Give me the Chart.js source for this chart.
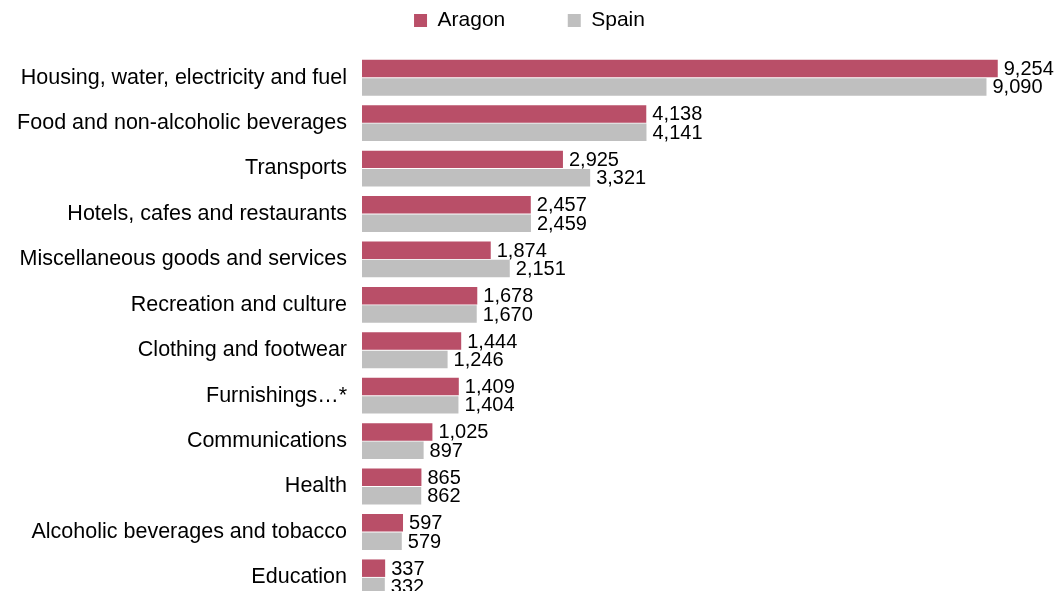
<!DOCTYPE html>
<html>
<head>
<meta charset="utf-8">
<script src="https://cdn.jsdelivr.net/npm/chart.js@4.4.1/dist/chart.umd.min.js"></script>
<style>
  html, body { margin: 0; padding: 0; background: #ffffff; overflow: hidden; }
  #wrap { position: relative; width: 1059px; height: 628px; }
</style>
</head>
<body>
<div id="wrap"><canvas id="c"></canvas></div>
<script>
const categories = [
  'Housing, water, electricity and fuel',
  'Food and non-alcoholic beverages',
  'Transports',
  'Hotels, cafes and restaurants',
  'Miscellaneous goods and services',
  'Recreation and culture',
  'Clothing and footwear',
  'Furnishings\u2026*',
  'Communications',
  'Health',
  'Alcoholic beverages and tobacco',
  'Education'
];
const aragonValues = [9254, 4138, 2925, 2457, 1874, 1678, 1444, 1409, 1025, 865, 597, 337];
const spainValues  = [9090, 4141, 3321, 2459, 2151, 1670, 1246, 1404, 897, 862, 579, 332];
const seriesNames = ['Aragon', 'Spain'];

const FONT = "'Liberation Sans', Arial, Helvetica, sans-serif";

const legendSpace = {
  id: 'legendSpace',
  beforeUpdate(chart) {
    const lg = chart.legend;
    if (lg && !lg._patched) {
      const f = lg.fit;
      lg.fit = function () { f.call(this); this.height = 55; };
      lg._patched = true;
    }
  }
};

const valueLabels = {
  id: 'valueLabels',
  afterDatasetsDraw(chart) {
    const ctx = chart.ctx;
    ctx.save();
    ctx.font = '20px ' + FONT;
    ctx.fillStyle = '#000000';
    ctx.textAlign = 'left';
    ctx.textBaseline = 'middle';
    chart.data.datasets.forEach((ds, di) => {
      const meta = chart.getDatasetMeta(di);
      meta.data.forEach((el, i) => {
        const v = ds.data[i];
        ctx.fillText(v.toLocaleString('en-US'), el.x + 6, el.y + 1);
      });
    });
    ctx.restore();
  }
};

new Chart(document.getElementById('c'), {
  type: 'bar',
  data: {
    labels: categories,
    datasets: [
      { label: seriesNames[0], data: aragonValues, backgroundColor: '#B94F68', borderWidth: 0 },
      { label: seriesNames[1], data: spainValues, backgroundColor: '#BFBFBF', borderWidth: 0 }
    ]
  },
  options: {
    indexAxis: 'y',
    responsive: true,
    maintainAspectRatio: false,
    animation: false,
    devicePixelRatio: 1,
    layout: { padding: { left: 10, right: 10, top: 0, bottom: 0 } },
    datasets: { bar: { categoryPercentage: 0.81, barPercentage: 0.95 } },
    scales: {
      x: { display: false, min: 0, max: 10000 },
      y: {
        grid: { display: false, drawTicks: false },
        border: { display: false },
        ticks: { color: '#000000', font: { family: FONT, size: 21.5 }, padding: 15, autoSkip: false },
        afterFit(scale) { scale.width = 352; }
      }
    },
    plugins: {
      tooltip: { enabled: false },
      legend: {
        position: 'top',
        align: 'center',
        labels: {
          color: '#000000',
          font: { family: FONT, size: 21 },
          boxWidth: 13,
          boxHeight: 13,
          padding: 10,
          generateLabels(chart) {
            const items = Chart.defaults.plugins.legend.labels.generateLabels(chart);
            items.forEach((it, i) => { if (i < items.length - 1) it.text += ' '.repeat(9); });
            return items;
          }
        }
      }
    }
  },
  plugins: [legendSpace, valueLabels]
});
</script>
</body>
</html>
